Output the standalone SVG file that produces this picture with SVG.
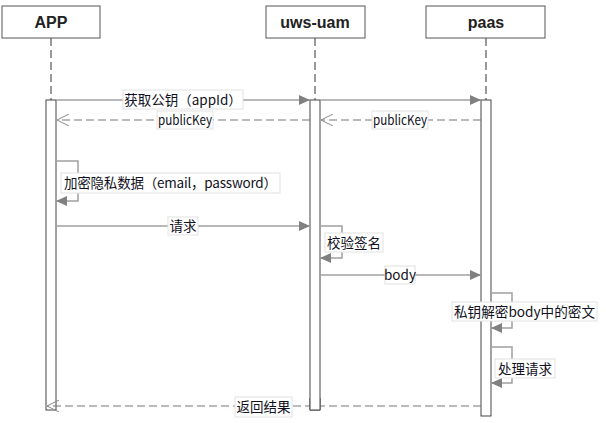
<svg xmlns="http://www.w3.org/2000/svg" width="606" height="423" viewBox="0 0 606 423">
<style>
.hbox{fill:#fff;stroke:#555;stroke-width:1}
.htxt{font-family:"Liberation Sans","Noto Sans CJK SC",sans-serif;font-weight:bold;font-size:16px;fill:#222;text-anchor:middle}
.life{stroke:#555;stroke-width:1.2;stroke-dasharray:8,4;fill:none}
.act{fill:#fff;stroke:#444;stroke-width:1}
.msg{stroke:#a0a0a0;stroke-width:1.5;fill:none}
.ret{stroke:#777;stroke-width:1.2;stroke-dasharray:8,4;fill:none}
.lbox{fill:#fff;stroke:#e2e2e2;stroke-width:1}
.ltxt{font-family:"Noto Sans CJK SC","Noto Sans",sans-serif;font-size:13.5px;fill:#111122;text-anchor:middle}
</style>
<defs>
<marker id="fill" markerWidth="12" markerHeight="10" refX="11" refY="5" orient="auto" markerUnits="userSpaceOnUse">
<path d="M0,0 L11,5 L0,10 Z" fill="#808080"/>
</marker>
<marker id="open" markerWidth="14" markerHeight="12" refX="12" refY="6" orient="auto" markerUnits="userSpaceOnUse">
<path d="M0,0 L12,6 L0,12" fill="none" stroke="#888" stroke-width="1"/>
</marker>
</defs>

<g id="APP">
<rect class="hbox" x="2" y="6" width="98" height="32"/>
<text class="htxt" x="51" y="28">APP</text>
<line class="life" x1="51" y1="38" x2="51" y2="100"/>
<rect class="act" x="46" y="100" width="10" height="310"/>
</g>
<g id="uws-uam">
<rect class="hbox" x="266" y="6" width="99" height="32"/>
<text class="htxt" x="315" y="28">uws-uam</text>
<line class="life" x1="315" y1="38" x2="315" y2="100"/>
<rect class="act" x="310" y="100" width="10" height="310"/>
</g>
<g id="paas">
<rect class="hbox" x="426" y="6" width="119" height="32"/>
<text class="htxt" x="486" y="28">paas</text>
<line class="life" x1="486" y1="38" x2="486" y2="100"/>
<rect class="act" x="481" y="100" width="10" height="316"/>
</g>

<g id="connectors">
<line class="msg" x1="56" y1="100" x2="310" y2="100" marker-end="url(#fill)"/>
<line class="msg" x1="320" y1="100" x2="481" y2="100" marker-end="url(#fill)"/>
<rect class="lbox" x="123" y="90" width="120" height="19"/>
<text class="ltxt" x="183" y="104.5">获取公钥（appId）</text>

<line class="ret" x1="481" y1="120" x2="321" y2="120" marker-end="url(#open)"/>
<rect class="lbox" x="372" y="111" width="56" height="18"/>
<text class="ltxt" x="400" y="125" textLength="54" lengthAdjust="spacingAndGlyphs">publicKey</text>
<line class="ret" x1="310" y1="120" x2="57" y2="120" marker-end="url(#open)"/>
<rect class="lbox" x="157" y="111" width="56" height="18"/>
<text class="ltxt" x="185" y="125" textLength="54" lengthAdjust="spacingAndGlyphs">publicKey</text>

<polyline class="msg" points="56,161 78,161 78,201 56,201" marker-end="url(#fill)"/>
<rect class="lbox" x="61" y="173" width="219" height="20"/>
<text class="ltxt" x="170.5" y="188" textLength="213" lengthAdjust="spacing">加密隐私数据（email，password）</text>

<line class="msg" x1="56" y1="226" x2="310" y2="226" marker-end="url(#fill)"/>
<rect class="lbox" x="168" y="217" width="30" height="18"/>
<text class="ltxt" x="183" y="231">请求</text>

<polyline class="msg" points="320,226 342,226 342,258 320,258" marker-end="url(#fill)"/>
<rect class="lbox" x="325" y="233" width="58" height="19"/>
<text class="ltxt" x="354" y="247.5">校验签名</text>

<line class="msg" x1="320" y1="275" x2="481" y2="275" marker-end="url(#fill)"/>
<rect class="lbox" x="385" y="266" width="30" height="18"/>
<text class="ltxt" x="400" y="280">body</text>

<polyline class="msg" points="491,293 512,293 512,328 491,328" marker-end="url(#fill)"/>
<rect class="lbox" x="452" y="302" width="145" height="19"/>
<text class="ltxt" x="524.5" y="316.5" textLength="141" lengthAdjust="spacingAndGlyphs">私钥解密body中的密文</text>

<polyline class="msg" points="491,347 512,347 512,383 491,383" marker-end="url(#fill)"/>
<rect class="lbox" x="495" y="359" width="60" height="19"/>
<text class="ltxt" x="525" y="373.5">处理请求</text>

<line class="ret" x1="481" y1="406" x2="47" y2="406" marker-end="url(#open)"/>
<rect x="310" y="398" width="10" height="12" fill="#fff"/>
<line x1="310" y1="398" x2="310" y2="410" stroke="#444"/>
<line x1="320" y1="398" x2="320" y2="410" stroke="#444"/>
<line x1="310" y1="410" x2="320" y2="410" stroke="#444"/>
<rect class="lbox" x="235" y="397" width="57" height="20"/>
<text class="ltxt" x="263.5" y="411.5">返回结果</text>
</g>
</svg>
